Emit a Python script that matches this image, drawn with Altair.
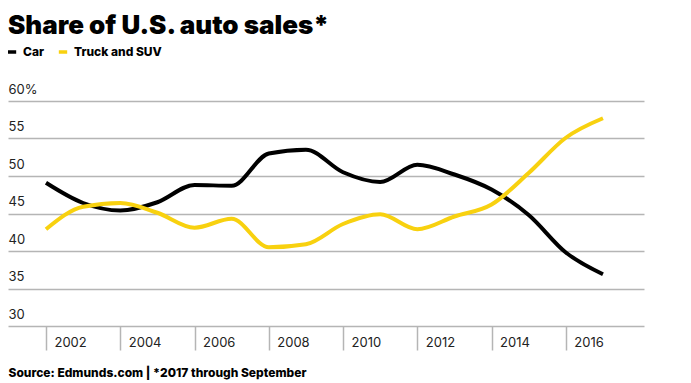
import altair as alt
import pandas as pd

years = list(range(2002, 2018))
car = [49.1, 46.4, 45.4, 46.5, 48.8, 48.7, 53.0, 53.5, 50.5, 49.2, 51.5, 50.2, 48.2, 44.8, 39.8, 36.9]
truck = [42.9, 45.9, 46.4, 45.1, 43.1, 44.3, 40.5, 40.9, 43.6, 44.9, 42.9, 44.6, 46.2, 50.4, 55.1, 57.7]
series = ["Car", "Truck and SUV"]
colors = ["#000000", "#F8D10F"]
y_ticks = [30, 35, 40, 45, 50, 55, 60]
x_ticks = [2002, 2004, 2006, 2008, 2010, 2012, 2014, 2016]

rows = []
for s, vals in zip(series, [car, truck]):
    for yr, v in zip(years, vals):
        rows.append({"year": yr, "share": v, "series": s})
df = pd.DataFrame(rows)

FONT = "Inter"

chart = alt.Chart(df).mark_line(strokeWidth=4, interpolate="monotone").encode(
    x=alt.X("year:Q",
            scale=alt.Scale(domain=[2000.977, 2018.105], nice=False, zero=False),
            axis=alt.Axis(values=x_ticks, format="d", grid=False, domain=False,
                          ticks=True, tickSize=24, tickColor="#b5b5b5", tickWidth=1.5,
                          labelAlign="left", labelOffset=8, labelPadding=-8,
                          labelBaseline="middle", labelFont=FONT, labelFontSize=13,
                          labelColor="#222222",
                          title="Source: Edmunds.com | *2017 through September",
                          titleFont=FONT, titleFontSize=12, titleFontWeight=800,
                          titleColor="#000000", titleAnchor="start", titleAlign="left",
                          titleX=0, titleY=50, titleBaseline="alphabetic")),
    y=alt.Y("share:Q",
            scale=alt.Scale(domain=[30, 60], nice=False, zero=False),
            axis=alt.Axis(values=y_ticks, grid=True, gridColor="#b5b5b5", gridWidth=1.5,
                          domain=False, ticks=False, labelAlign="left", labelPadding=0,
                          labelBaseline="bottom", labelOffset=-5, labelFont=FONT,
                          labelFontSize=13, labelColor="#222222",
                          labelExpr="datum.value == 60 ? '60%' : datum.label",
                          title=None)),
    color=alt.Color("series:N",
                    scale=alt.Scale(domain=series, range=colors),
                    legend=alt.Legend(title=None, orient="none", legendX=-2, legendY=-55,
                                      direction="horizontal", symbolType="stroke",
                                      symbolSize=70, symbolStrokeWidth=3.5,
                                      labelFont=FONT, labelFontSize=12, labelFontWeight=800,
                                      labelColor="#000000", columnPadding=6,
                                      labelOffset=5)),
).properties(
    width=636,
    height=225,
    title=alt.TitleParams("Share of U.S. auto sales*", anchor="start", frame="group",
                          font=FONT, fontSize=26, fontWeight=900, color="#000000",
                          offset=7),
    autosize=alt.AutoSizeParams(type="none"),
    padding={"left": 0, "top": 93, "right": 30, "bottom": 56},
).configure_view(stroke=None)

chart.save("out.html", embed_options={"renderer": "svg", "actions": False})
